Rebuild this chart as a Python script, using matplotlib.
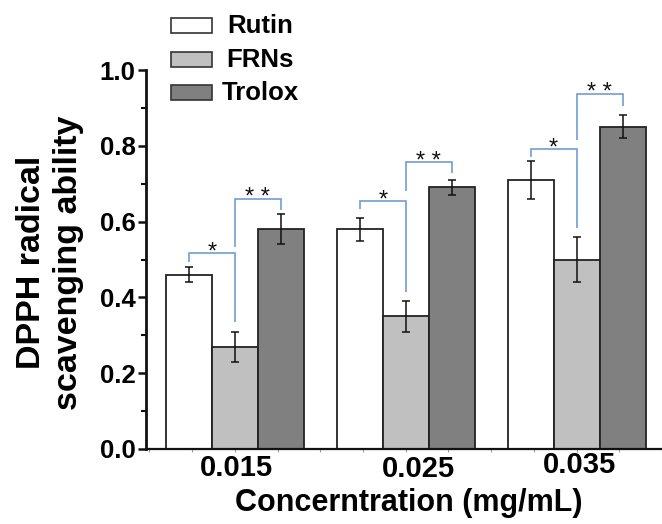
import matplotlib
matplotlib.use("Agg")
import matplotlib.pyplot as plt
from matplotlib.patches import Rectangle
import numpy as np

# ---- data ----
concentrations = ["0.015", "0.025", "0.035"]
series = ["Rutin", "FRNs", "Trolox"]
rutin = [0.46, 0.58, 0.71]
rutin_err = [0.02, 0.03, 0.05]
frns = [0.27, 0.35, 0.50]
frns_err = [0.04, 0.04, 0.06]
trolox = [0.58, 0.69, 0.85]
trolox_err = [0.04, 0.02, 0.03]
colors = ["#ffffff", "#c0c0c0", "#808080"]

# significance brackets: (group, bar_a, bar_b, leg_a_bottom, top, leg_b_bottom, label)
brackets = [
    (0, 0, 1, 0.493, 0.517, 0.335, "*"),
    (0, 1, 2, 0.533, 0.660, 0.631, "**"),
    (1, 0, 1, 0.633, 0.654, 0.414, "*"),
    (1, 1, 2, 0.681, 0.757, 0.728, "**"),
    (2, 0, 1, 0.770, 0.792, 0.583, "*"),
    (2, 1, 2, 0.815, 0.937, 0.905, "**"),
]

FONT = "Liberation Sans"
plt.rcParams["font.family"] = [FONT, "DejaVu Sans"]

W, H = 662, 524
fig = plt.figure(figsize=(W / 100, H / 100), dpi=100)
ax = fig.add_axes([146 / W, 1 - 449 / H, 1 - 146 / W, (449 - 70) / H])

x = np.arange(len(concentrations))
bw = 0.269
vals = [rutin, frns, trolox]
errs = [rutin_err, frns_err, trolox_err]
for i, (v, e, c) in enumerate(zip(vals, errs, colors)):
    ax.bar(x + (i - 1) * bw, v, bw, color=c, edgecolor="#222222", linewidth=1.3,
           yerr=e, capsize=3.2,
           error_kw=dict(ecolor="#111111", elinewidth=1.1, capthick=1.1), zorder=2)

bcol = "#6f9dd4"
for g, a, b, la, top, lb, lab in brackets:
    xa = x[g] + (a - 1) * bw
    xb = x[g] + (b - 1) * bw
    ax.plot([xa, xa, xb, xb], [la, top, top, lb], color=bcol, lw=1.2, zorder=3,
            solid_capstyle="butt", solid_joinstyle="miter")
    fs = 17
    ax.annotate(" ".join(lab) if len(lab) > 1 else lab,
                xy=((xa + xb) / 2, top), xytext=(0, -0.56 * fs + 5.5),
                textcoords="offset points", ha="center", va="baseline",
                fontsize=fs, color="#111111", family=FONT)

ax.set_xlim(-0.52, 2.497)
ax.set_ylim(0, 1.0)
ax.set_yticks(np.arange(0, 1.01, 0.2))
ax.set_yticks(np.arange(0.1, 1.0, 0.2), minor=True)
ax.set_yticklabels([f"{t:.1f}" for t in np.arange(0, 1.01, 0.2)],
                   fontsize=18.5, fontweight="bold")
ax.tick_params(axis="y", which="major", length=6, width=1.8, direction="out", pad=1.5,
               color="#111111")
ax.tick_params(axis="y", which="minor", length=3.8, width=1.5, direction="out",
               color="#111111")

ax.set_xticks(x)
ax.set_xticklabels([])
ax.set_xticks(np.arange(-0.5, 2.6, 0.25), minor=True)
ax.tick_params(axis="x", which="both", length=2.5, width=0.8, color="#999999",
               direction="out")

for s in ["top", "right"]:
    ax.spines[s].set_visible(False)
ax.spines["left"].set_linewidth(2.0)
ax.spines["bottom"].set_linewidth(1.6)
ax.spines["left"].set_color("#111111")
ax.spines["bottom"].set_color("#111111")

# x tick labels
label_off = [(1.5, 0), (13, -1), (3, 3)]
for xi, lab, (dx, dy) in zip(x, concentrations, label_off):
    ax.annotate(lab, xy=(xi, 0), xycoords=("data", "axes fraction"),
                xytext=(dx * 0.72, (-27 + dy) * 0.72), textcoords="offset points",
                ha="center", va="baseline", fontsize=21, fontweight="bold")

fig.text(409 / W, 1 - 511 / H, "Concerntration (mg/mL)", ha="center", va="baseline",
         fontsize=22, fontweight="bold")
fig.text(40 / W, 1 - 262 / H, "DPPH radical", rotation=90, rotation_mode="anchor",
         ha="center", va="baseline", fontsize=24.5, fontweight="bold")
fig.text(77 / W, 1 - 263 / H, "scavenging ability", rotation=90, rotation_mode="anchor",
         ha="center", va="baseline", fontsize=24.5, fontweight="bold")

# legend
rows = [(18, 33), (52, 67), (85, 100)]
for (ytop, base), name, c in zip(rows, series, colors):
    fig.patches.append(Rectangle((171 / W, 1 - (ytop + 15) / H), 41 / W, 15 / H,
                                 transform=fig.transFigure, facecolor=c,
                                 edgecolor="#333333", linewidth=1.2))
    fig.text(260 / W, 1 - base / H, name, ha="center", va="baseline",
             fontsize=18.5, fontweight="bold")

fig.savefig("out.png", dpi=100)
